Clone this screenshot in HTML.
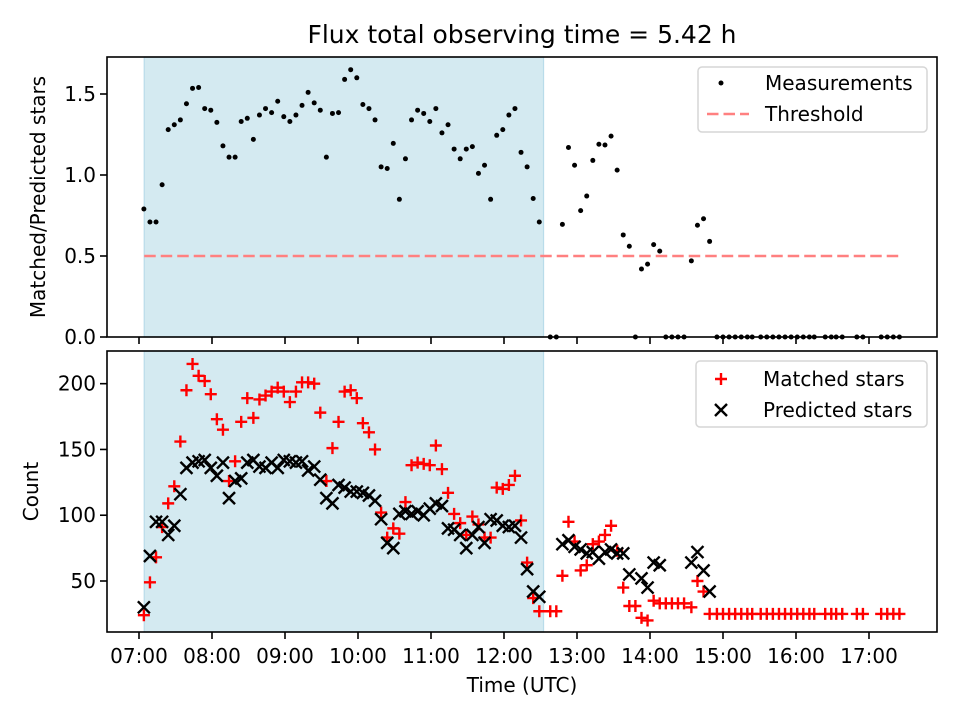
<!DOCTYPE html>
<html><head><meta charset="utf-8"><style>
html,body{margin:0;padding:0;background:#fff;}
svg text{font-family:"DejaVu Sans","Liberation Sans",sans-serif;fill:#000;}
</style></head><body>
<svg id="chart" width="960" height="720" viewBox="0 0 960 720" xmlns="http://www.w3.org/2000/svg">
<rect x="0" y="0" width="960" height="720" fill="#fff"/>
<text x="522" y="43" font-size="25" text-anchor="middle">Flux total observing time = 5.42 h</text>
<g id="top"></g>
<g id="bottom"></g>
</svg>
<script>
// minutes after 07:00
const timesMin = [4,9,14,19,24,29,34,39,44,49,54,59,64,69,74,79,84,89,94,99,104,109,114,119,124,129,134,139,144,149,154,159,164,169,174,179,184,189,194,199,204,209,214,219,224,229,234,239,244,249,254,259,264,269,274,279,284,289,294,299,304,309,314,319,324,329,
338,343,348,353,358,363,368,373,378,383,388,393,398,403,408,413,418,423,428,433,438,443,448,454,459,464,469,
475,480,485,490,495,500,504,511,516,521,526,531,536,541,546,551,555,564,569,573,578,590,595,610,615,620,625];
const ratioValues = [0.79,0.71,0.71,0.94,1.28,1.31,1.34,1.44,1.535,1.54,1.41,1.40,1.325,1.18,1.11,1.11,1.33,1.35,1.22,1.37,1.41,1.385,1.455,1.36,1.33,1.37,1.43,1.51,1.445,1.40,1.11,1.38,1.385,1.59,1.65,1.60,1.435,1.41,1.34,1.05,1.04,1.195,0.85,1.10,1.34,1.40,1.38,1.33,1.41,1.26,1.31,1.16,1.10,1.16,1.175,1.01,1.06,0.85,1.245,1.28,1.37,1.41,1.14,1.05,0.855,0.71,
0,0,0.695,1.17,1.06,0.78,0.87,1.09,1.19,1.185,1.24,1.03,0.63,0.56,0,0.42,0.45,0.57,0.53,0,0,0,0,0.47,0.69,0.73,0.59,
0,0,0,0,0,0,0,0,0,0,0,0,0,0,0,0,0,0,0,0,0,0,0,0,0,0,0,0];
const matchedValues = [24,49,68,91,109,122,156,195,215,206,202,192,173,165,126,141,171,189,174,188,191,194,197,194,186,194,201,201,200,178,126,151,171,194,195,189,170,163,150,102,83,90,86,110,138,140,139,138,153,135,117,101,94,85,99,93,83,83,121,120,123,130,96,64,37,27,
27,27,54,95,80,58,62,78,80,85,92,73,45,31,31,22,20,35,33,33,33,33,33,30,50,42,25,
25,25,25,25,25,25,25,25,25,25,25,25,25,25,25,25,25,25,25,25,25,25,25,25,25,25,25,25];
const predictedValues = [30,69,95,95,85,92,116,136,140,141,142,136,130,140,113,126,128,140,142,137,136,140,136,142,141,140,141,134,137,127,113,109,123,121,118,118,117,115,111,97,79,75,101,103,101,103,100,105,109,107,90,89,85,75,85,91,79,97,96,92,91,92,83,59,42,38,
null,null,78,81,76,74,71,72,67,72,74,71,71,55,null,52,45,64,62,null,null,null,null,64,72,58,42,
null,null,null,null,null,null,null,null,null,null,null,null,null,null,null,null,null,null,null,null,null,null,null,null,null,null,null,null];
const thresholdValue = 0.5;
const shadeStartMin = 4.3, shadeEndMin = 332.5;
const thresholdEndMin = 626;
const xTickLabels = ["07:00","08:00","09:00","10:00","11:00","12:00","13:00","14:00","15:00","16:00","17:00"];
const topTicks = [0,0.5,1.0,1.5];
const topTickLabels = ["0.0","0.5","1.0","1.5"];
const bottomTicks = [50,100,150,200];
const bottomTickLabels = ["50","100","150","200"];

const NS="http://www.w3.org/2000/svg";
const L=107,R=937;
const xs = m => 139 + m/60*73;
const yTop = v => 337 - v*162;
const yBot = v => 581 - (v-50)*1.3155;
function mk(tag, attrs, parent){const e=document.createElementNS(NS,tag);for(const k in attrs)e.setAttribute(k,attrs[k]);parent.appendChild(e);return e;}

function axes(g, top, bot, ticks, labels, yf, ylabel, ylabelX, showX){
  const sh = mk('rect',{x:xs(shadeStartMin),y:top,width:xs(shadeEndMin)-xs(shadeStartMin),height:bot-top,fill:'#d4eaf1',stroke:'#b9dcea','stroke-width':1.2},g);
  
  
  ticks.forEach((t,i)=>{
    const y=yf(t);
    mk('line',{x1:L-7,x2:L,y1:y,y2:y,stroke:'#000','stroke-width':1.6},g);
    const tx=mk('text',{x:L-11,y:y+7,'font-size':20,'text-anchor':'end'},g);
    tx.textContent=labels[i];
    
    
  });
  xTickLabels.forEach((lab,i)=>{
    const x=xs(i*60);
    mk('line',{x1:x,x2:x,y1:bot,y2:bot+7,stroke:'#000','stroke-width':1.6},g);
    if(showX){
      const tx=mk('text',{x:x,y:bot+31,'font-size':20,'text-anchor':'middle'},g);
      tx.textContent=lab;
      
      
    }
  });
  const yl=mk('text',{x:ylabelX,y:(top+bot)/2,'font-size':20,'text-anchor':'middle',transform:`rotate(-90 ${ylabelX} ${(top+bot)/2})`},g);
  yl.textContent=ylabel;
  
  
}

// TOP
const gt=document.getElementById('top');
axes(gt,57,337,topTicks,topTickLabels,yTop,'Matched/Predicted stars',45,false);
const th=mk('line',{x1:xs(shadeStartMin),x2:xs(thresholdEndMin),y1:yTop(thresholdValue),y2:yTop(thresholdValue),stroke:'#ff8080','stroke-width':2.6,'stroke-dasharray':'11.5,5'},gt);


timesMin.forEach((m,i)=>{
  const c=mk('circle',{cx:xs(m),cy:yTop(ratioValues[i]),r:2.5,fill:'#000'},gt);
  
  
});
const tf=mk('rect',{x:107,y:57,width:830,height:280,fill:'none',stroke:'#000','stroke-width':1.6},gt);


// top legend
const lg1=mk('g',{},gt);


mk('rect',{x:698,y:67,width:229,height:65,rx:4,fill:'#fff','fill-opacity':0.85,stroke:'#d6d6d6','stroke-width':1.5},lg1);
mk('circle',{cx:721,cy:83,r:2.5,fill:'#000'},lg1);
const t1=mk('text',{x:765,y:90,'font-size':20},lg1);t1.textContent='Measurements';


mk('line',{x1:707,x2:749,y1:114,y2:114,stroke:'#ff8080','stroke-width':2.6,'stroke-dasharray':'11.5,5'},lg1);
const t2=mk('text',{x:765,y:121,'font-size':20},lg1);t2.textContent='Threshold';



// BOTTOM
const gb=document.getElementById('bottom');
axes(gb,351,632,bottomTicks,bottomTickLabels,yBot,'Count',38,true);
function plus(g,x,y){const p=mk('path',{d:`M${x-6} ${y}H${x+6}M${x} ${y-6}V${y+6}`,stroke:'#ff0000','stroke-width':2.4,fill:'none'},g);return p;}
function cross(g,x,y){const p=mk('path',{d:`M${x-6} ${y-6}L${x+6} ${y+6}M${x-6} ${y+6}L${x+6} ${y-6}`,stroke:'#000','stroke-width':2.4,fill:'none'},g);return p;}
timesMin.forEach((m,i)=>{
  const p=plus(gb,xs(m),yBot(matchedValues[i]));
  
  
});
timesMin.forEach((m,i)=>{
  if(predictedValues[i]===null) return;
  const p=cross(gb,xs(m),yBot(predictedValues[i]));
  
  
});
const bf=mk('rect',{x:107,y:351,width:830,height:281,fill:'none',stroke:'#000','stroke-width':1.6},gb);


const xl=mk('text',{x:522,y:692,'font-size':20,'text-anchor':'middle'},gb);
xl.textContent='Time (UTC)';


const lg2=mk('g',{},gb);


mk('rect',{x:696,y:361,width:231,height:66,rx:4,fill:'#fff','fill-opacity':0.85,stroke:'#d6d6d6','stroke-width':1.5},lg2);
plus(lg2,721,379);
const t3=mk('text',{x:763,y:386,'font-size':20},lg2);t3.textContent='Matched stars';


cross(lg2,721,410);
const t4=mk('text',{x:763,y:417,'font-size':20},lg2);t4.textContent='Predicted stars';


</script>
</body></html>
